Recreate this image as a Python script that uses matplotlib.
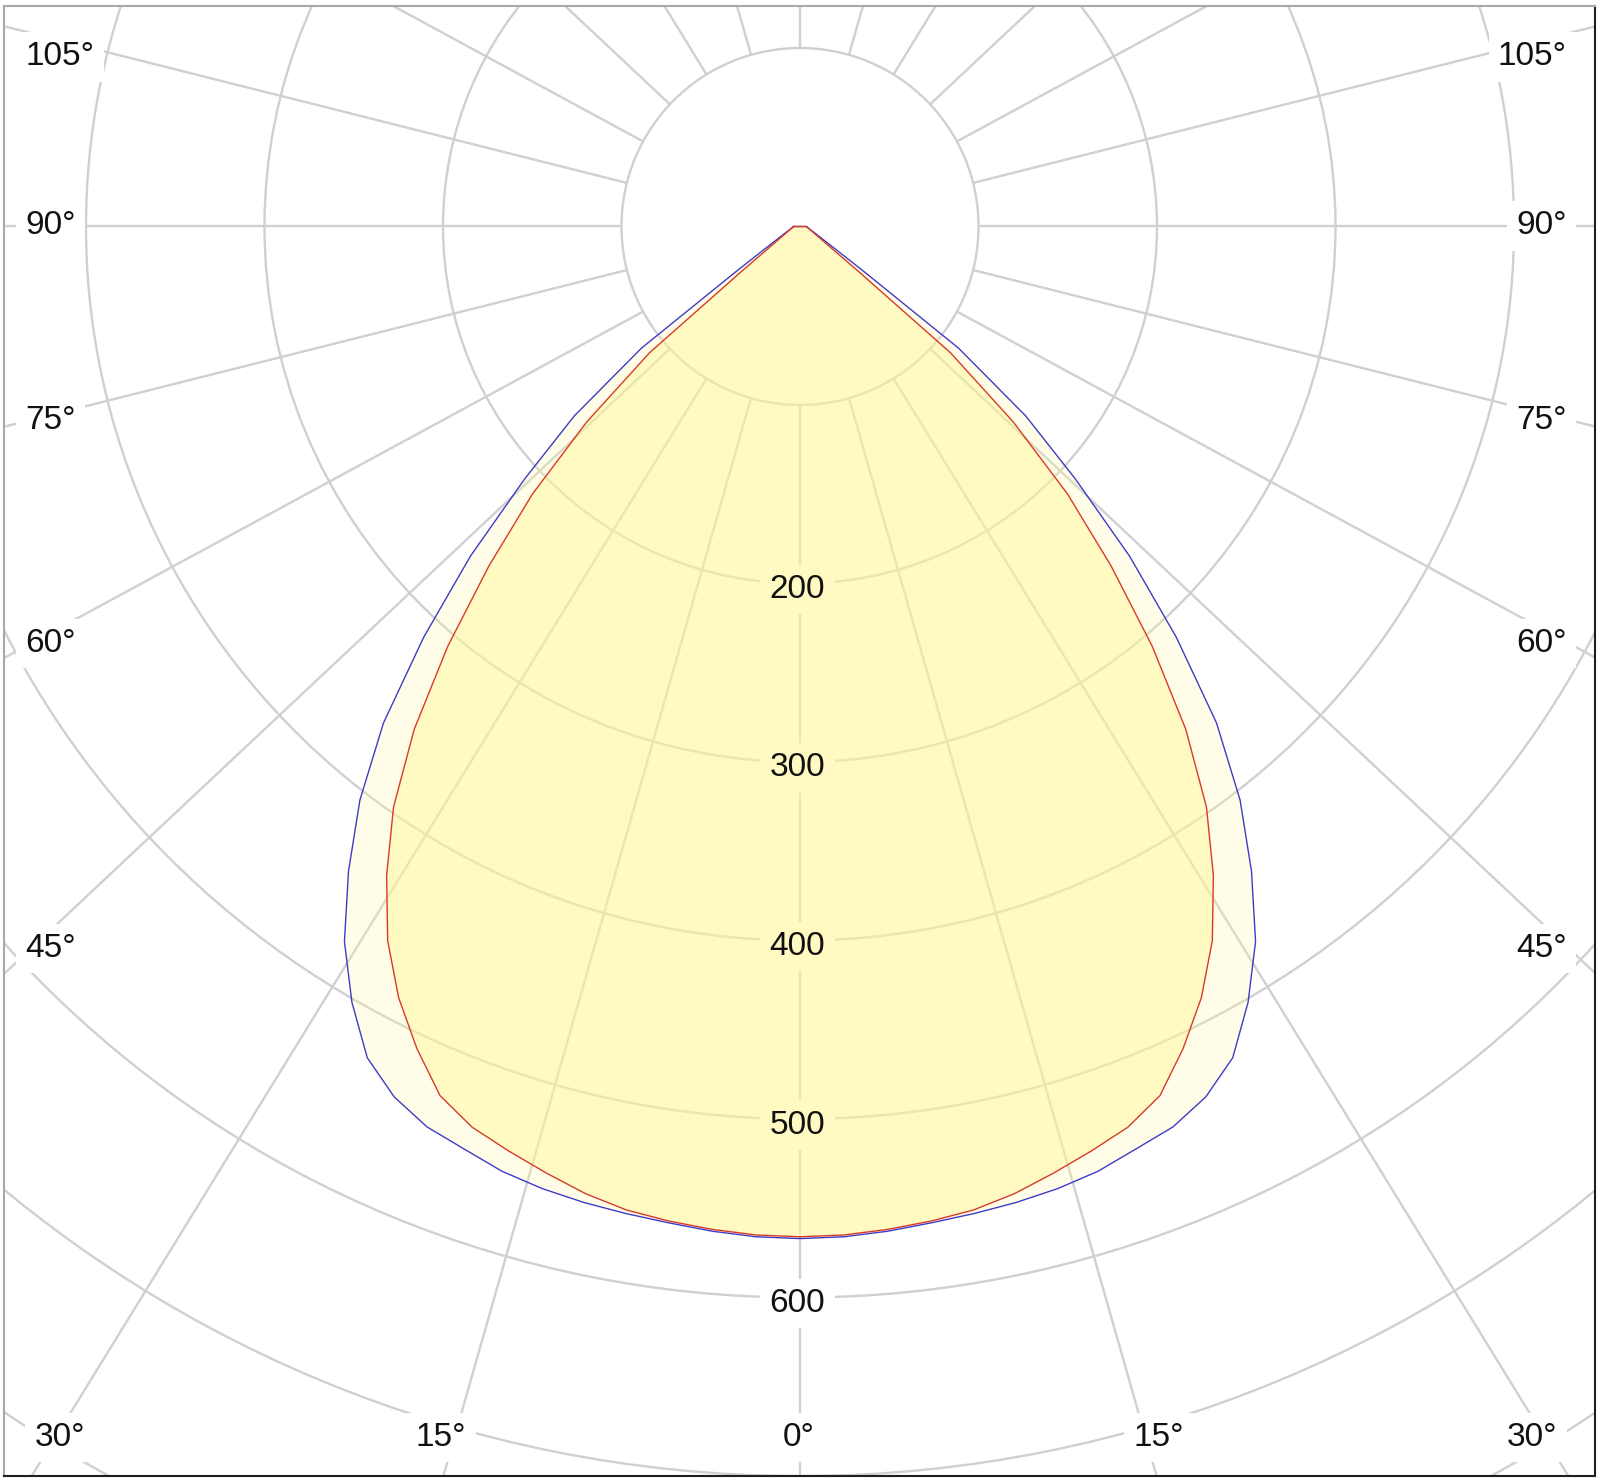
import numpy as np
import matplotlib.pyplot as plt
from matplotlib.patches import Circle

angoli = [0, 2.5, 5, 7.5, 10, 12.5, 15, 17.5, 20, 22.5, 25, 27.5, 30, 32.5, 35,
          37.5, 40, 42.5, 45, 47.5, 50, 52.5, 55, 60, 65, 70, 80, 90]
curva_rossa = [566, 565.5, 564, 562, 559.5, 555, 549, 543, 537, 527, 508, 487, 462,
               431, 397, 355, 307, 258, 212, 162, 110, 41, 23, 12.5, 8.5, 6.5, 4.5, 3.5]
curva_blu = [567, 566.5, 565, 563, 561.5, 560, 558, 555, 550, 546, 538, 525, 502,
             475, 441, 405, 363, 312, 261, 209, 165, 112, 42, 16, 10, 7, 4.7, 3.6]

cerchi = [100, 200, 300, 400, 500, 600, 700, 800]
etichette_cerchi = [200, 300, 400, 500, 600]
raggi_angolo = list(range(-180, 180, 15))

# etichette angolari: (testo, x px, y px, allineamento)
etichette_angoli = [
    ("105°", 25.5, 53.3, "left"), ("90°", 25.5, 222.5, "left"),
    ("75°", 25.5, 417.5, "left"), ("60°", 25.5, 640, "left"),
    ("45°", 25.5, 945, "left"),
    ("105°", 1567, 53.3, "right"), ("90°", 1567, 222.5, "right"),
    ("75°", 1567, 417.5, "right"), ("60°", 1567, 640, "right"),
    ("45°", 1567, 945, "right"),
    ("30°", 60, 1434, "center"), ("15°", 441, 1434, "center"),
    ("0°", 799, 1434, "center"), ("15°", 1159, 1434, "center"),
    ("30°", 1532, 1434, "center"),
]

W, H = 1600, 1482
CX, CY = 800, 226.5      # centro in pixel
S = 1.785                # pixel per unita
K = 1.065                # i raggi della griglia sono leggermente "aperti"
L, R, T, B = 4, 1595, 6, 1476

def px(x, y):
    return (x - CX) / S, (CY - y) / S

plt.rcParams['font.family'] = ['Liberation Sans', 'DejaVu Sans']

fig = plt.figure(figsize=(16, 14.82), dpi=100)
ax = fig.add_axes([L / W, 1 - B / H, (R - L) / W, (B - T) / H])
ax.set_xlim((L - CX) / S, (R - CX) / S)
ax.set_ylim((CY - B) / S, (CY - T) / S)
ax.set_xticks([])
ax.set_yticks([])
for lato in ['top', 'left']:
    ax.spines[lato].set_color('#a8a8a8')
for lato in ['bottom', 'right']:
    ax.spines[lato].set_color('#1e1e1e')
for sp in ax.spines.values():
    sp.set_linewidth(1.5)

grigio = '#d0d0d0'
for r in cerchi:
    ax.add_patch(Circle((0, 0), r, fill=False, ec=grigio, lw=1.7, zorder=1))
for a in raggi_angolo:
    t = np.arctan2(K * np.sin(np.radians(a)), np.cos(np.radians(a)))
    ax.plot([100 * np.sin(t), 1500 * np.sin(t)], [-100 * np.cos(t), -1500 * np.cos(t)],
            color=grigio, lw=1.7, zorder=1, solid_capstyle='butt')

def scrivi(testo, x, y, ha):
    xd, yd = px(x, y + 12)
    # maschera bianca sotto il riempimento, testo sopra
    ax.text(xd, yd, testo, ha=ha, va='baseline', fontsize=24, color='none', zorder=2,
            bbox=dict(boxstyle='square,pad=0.28', fc='white', ec='none'))
    ax.text(xd, yd, testo, ha=ha, va='baseline', fontsize=24, color='#111111', zorder=6)

for v in etichette_cerchi:
    scrivi(str(v), 797.5, CY + v * S + 2.5, 'center')
for testo, x, y, ha in etichette_angoli:
    scrivi(testo, x, y, ha)

th = np.radians(angoli)
th_tot = np.concatenate([-th[::-1], th[1:]])

def contorno(valori):
    v = np.array(valori, dtype=float)
    r_tot = np.concatenate([v[::-1], v[1:]])
    x = r_tot * np.sin(th_tot)
    y = -r_tot * np.cos(th_tot)
    return np.append(x, x[0]), np.append(y, y[0])

xb, yb = contorno(curva_blu)
xr, yr = contorno(curva_rossa)
ax.fill(xb, yb, color=(1.0, 0.98, 0.63), alpha=0.25, lw=0, zorder=3)
ax.fill(xr, yr, color=(1.0, 0.96, 0.59), alpha=0.45, lw=0, zorder=3.1)
ax.plot(xb, yb, color='#3c3cc8', lw=1.0, zorder=4)
ax.plot(xr, yr, color='#d83a2a', lw=1.0, zorder=4.1)

fig.savefig('out.png', dpi=100)
